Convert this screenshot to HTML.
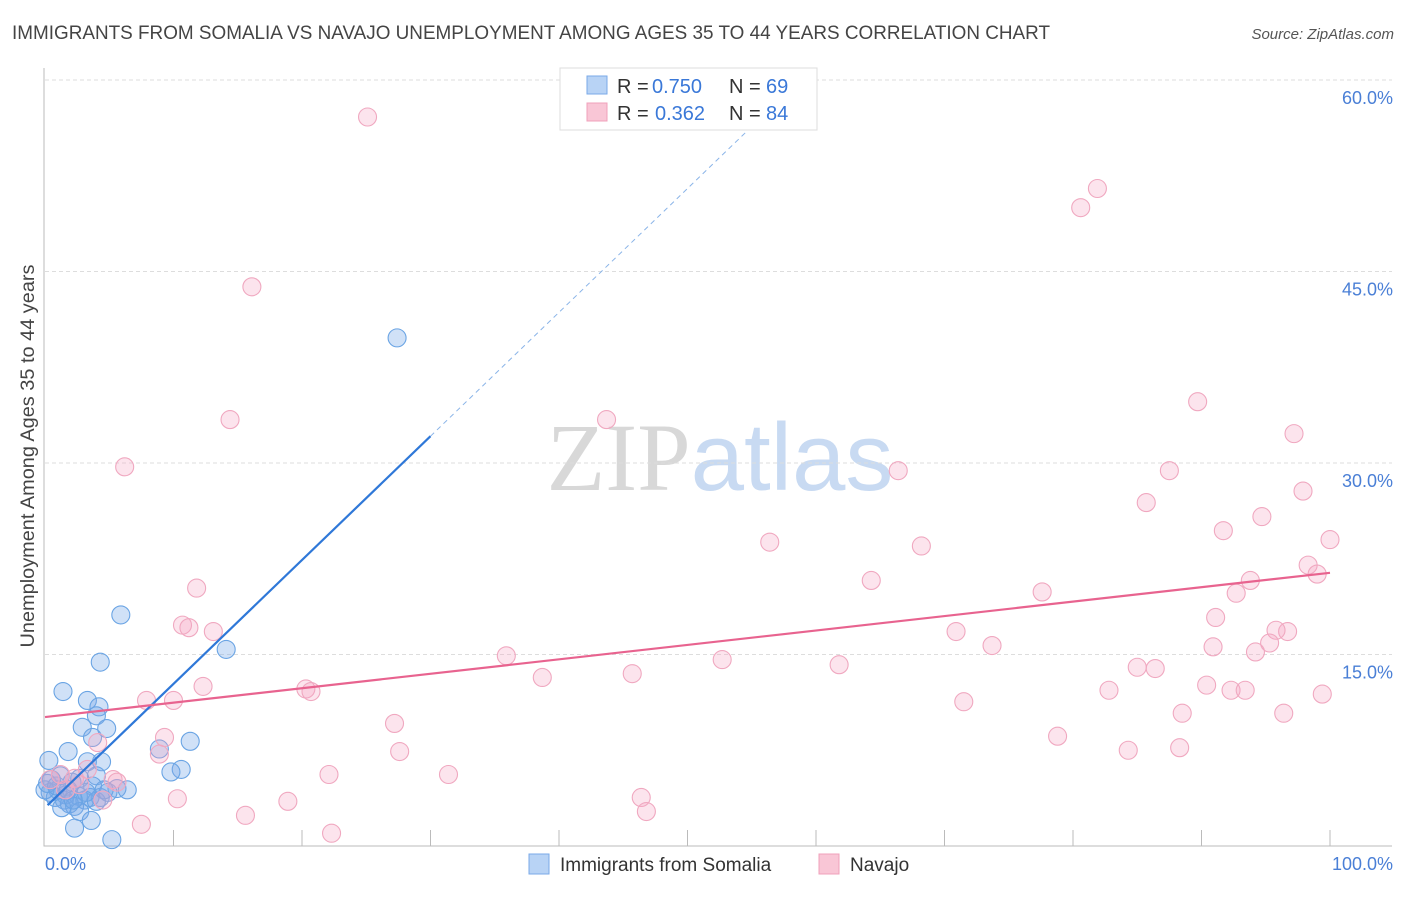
<!DOCTYPE html>
<html><head><meta charset="utf-8"><style>
body{margin:0;background:#fff;font-family:"Liberation Sans",sans-serif}
svg text{font-family:"Liberation Sans",sans-serif}
</style></head><body>
<svg id="chart" width="1406" height="892" xmlns="http://www.w3.org/2000/svg">
<text x="12" y="39" font-size="19" fill="#444" textLength="1038" lengthAdjust="spacingAndGlyphs">IMMIGRANTS FROM SOMALIA VS NAVAJO UNEMPLOYMENT AMONG AGES 35 TO 44 YEARS CORRELATION CHART</text>
<text x="1394" y="39" font-size="15" fill="#555" text-anchor="end" font-style="italic">Source: ZipAtlas.com</text>
<text x="720" y="490" font-size="96" text-anchor="middle"><tspan fill="#d8d8d8" font-family="Liberation Serif">ZIP</tspan><tspan fill="#c8daf2">atlas</tspan></text>
<g id="grid"></g><g id="axes"></g><g id="pts"></g><g id="lines"></g>
<text transform="translate(34,456) rotate(-90)" font-size="19.5" fill="#444" text-anchor="middle" textLength="383" lengthAdjust="spacingAndGlyphs">Unemployment Among Ages 35 to 44 years</text>
<text x="45" y="870" font-size="18" fill="#4a7fd6">0.0%</text>
<text x="1393" y="870" font-size="18" fill="#4a7fd6" text-anchor="end">100.0%</text>
<g>
<rect x="560" y="68" width="257" height="62" fill="#fff" stroke="#ddd"/>
<rect x="587" y="76" width="20" height="18" fill="#b8d3f5" stroke="#7aaae8"/>
<rect x="587" y="103" width="20" height="18" fill="#f9c6d6" stroke="#f0a0bb"/>
<text x="617" y="93" font-size="20" fill="#333">R =</text>
<text x="652" y="93" font-size="20" fill="#3a78d8">0.750</text>
<text x="729" y="93" font-size="20" fill="#333">N =</text>
<text x="766" y="93" font-size="20" fill="#3a78d8">69</text>
<text x="617" y="120" font-size="20" fill="#333">R =</text>
<text x="655" y="120" font-size="20" fill="#3a78d8">0.362</text>
<text x="729" y="120" font-size="20" fill="#333">N =</text>
<text x="766" y="120" font-size="20" fill="#3a78d8">84</text>
</g>
<g><rect x="529" y="854" width="20" height="20" fill="#b8d3f5" stroke="#7aaae8"/><text x="560" y="871" font-size="19" fill="#333">Immigrants from Somalia</text></g>
<g><rect x="819" y="854" width="20" height="20" fill="#f9c6d6" stroke="#f0a0bb"/><text x="850" y="871" font-size="19" fill="#333">Navajo</text></g>
</svg>
<script>
const blueX=[27.4,5.9,4.3,14.1,1.4,3.3,4.2,4.0,2.9,4.8,3.7,11.3,8.9,1.8,0.3,3.3,4.4,10.6,9.8,4.0,2.7,1.2,0.5,2.1,3.7,5.6,6.4,1.0,0.4,1.6,2.6,3.5,4.3,4.9,0.8,1.5,3.1,4.0,1.9,2.3,1.3,2.7,3.6,2.3,5.2,0,0.2,0.9,1.8,3.2,4.6,2.2];
const blueY=[39.8,18.1,14.4,15.4,12.1,11.4,10.9,10.2,9.3,9.2,8.5,8.2,7.6,7.4,6.7,6.6,6.6,6.0,5.8,5.5,5.3,5.5,5.2,5.0,4.7,4.5,4.4,4.4,4.2,4.0,3.9,3.8,3.8,4.2,3.8,3.6,3.6,3.5,3.3,3.1,3.0,2.7,2.0,1.4,0.5,4.4,4.9,4.7,4.4,4.2,4.4,3.6];
const pinkX=[25.1,81.9,80.6,16.1,14.4,43.7,6.2,89.7,97.2,66.4,87.5,85.7,97.9,94.7,91.7,56.4,68.2,100,11.8,64.3,98.3,99.0,93.8,77.6,92.7,10.7,11.2,13.1,91.1,70.9,96.7,95.8,95.3,73.7,90.9,94.2,35.9,52.7,61.8,85.0,86.4,45.7,38.7,12.3,20.3,20.7,90.4,82.8,92.3,93.4,10.0,7.9,71.5,99.4,88.5,96.4,27.2,78.8,9.3,4.1,84.3,88.3,8.9,27.6,22.1,31.4,5.3,5.6,1.2,2.3,46.4,10.3,18.9,4.5,46.8,15.6,7.5,22.3,0.4,1.6,2.7,3.3];
const pinkY=[57.1,51.5,50.0,43.8,33.4,33.4,29.7,34.8,32.3,29.4,29.4,26.9,27.8,25.8,24.7,23.8,23.5,24.0,20.2,20.8,22.0,21.3,20.8,19.9,19.8,17.3,17.1,16.8,17.9,16.8,16.8,16.9,15.9,15.7,15.6,15.2,14.9,14.6,14.2,14.0,13.9,13.5,13.2,12.5,12.3,12.1,12.6,12.2,12.2,12.2,11.4,11.4,11.3,11.9,10.4,10.4,9.6,8.6,8.5,8.1,7.5,7.7,7.2,7.4,5.6,5.6,5.2,5.0,5.6,5.3,3.8,3.7,3.5,3.6,2.7,2.4,1.7,1.0,5.2,4.4,4.8,6.0];
const yTicks=[15,30,45,60];
const blueFit=[3.0,0.97];  // intercept, slope
const pinkFit=[10.1,0.113];
const X=v=>45+v*12.85, Y=v=>846-v*12.767;
const NS='http://www.w3.org/2000/svg';
function mk(p,t,a){const e=document.createElementNS(NS,t);for(const k in a)e.setAttribute(k,a[k]);p.appendChild(e);return e;}
const grid=document.getElementById('grid'),axes=document.getElementById('axes'),pts=document.getElementById('pts'),lines=document.getElementById('lines');
yTicks.forEach(t=>{
 const l=mk(grid,'line',{x1:45,x2:1392,y1:Y(t),y2:Y(t),stroke:'#ddd','stroke-dasharray':'4,3'});
 
 
 const tx=mk(grid,'text',{x:1393,y:Y(t)+24,'font-size':18,fill:'#4a7fd6','text-anchor':'end'});
 tx.textContent=t.toFixed(1)+'%';
 
 
});
const ax=mk(axes,'path',{d:'M44,68V846H1392',fill:'none',stroke:'#bbb'});


for(let i=1;i<=10;i++){const tk=mk(axes,'line',{x1:X(i*10),x2:X(i*10),y1:830,y2:846,stroke:'#bbb'});
 
 }
blueX.forEach((x,i)=>{const c=mk(pts,'circle',{cx:X(x),cy:Y(blueY[i]),r:9,fill:'rgba(120,170,232,0.35)',stroke:'#6aa4e4','stroke-width':1.1});
 
 });
pinkX.forEach((x,i)=>{const c=mk(pts,'circle',{cx:X(x),cy:Y(pinkY[i]),r:9,fill:'rgba(245,165,195,0.3)',stroke:'#f0a8c0','stroke-width':1.1});
 
 });
const b=x=>blueFit[0]+blueFit[1]*x, p=x=>pinkFit[0]+pinkFit[1]*x;
let l1=mk(lines,'line',{x1:X(0.2),y1:Y(b(0.2)),x2:X(30),y2:Y(b(30)),stroke:'#2f78d8','stroke-width':2.2});


let l2=mk(lines,'line',{x1:X(30),y1:Y(b(30)),x2:X(55.5),y2:Y(b(55.5)),stroke:'#8ab4e8','stroke-width':1,'stroke-dasharray':'5,4'});


let l3=mk(lines,'line',{x1:X(0),y1:Y(p(0)),x2:X(100),y2:Y(p(100)),stroke:'#e8638f','stroke-width':2.2});


</script>
</body></html>
